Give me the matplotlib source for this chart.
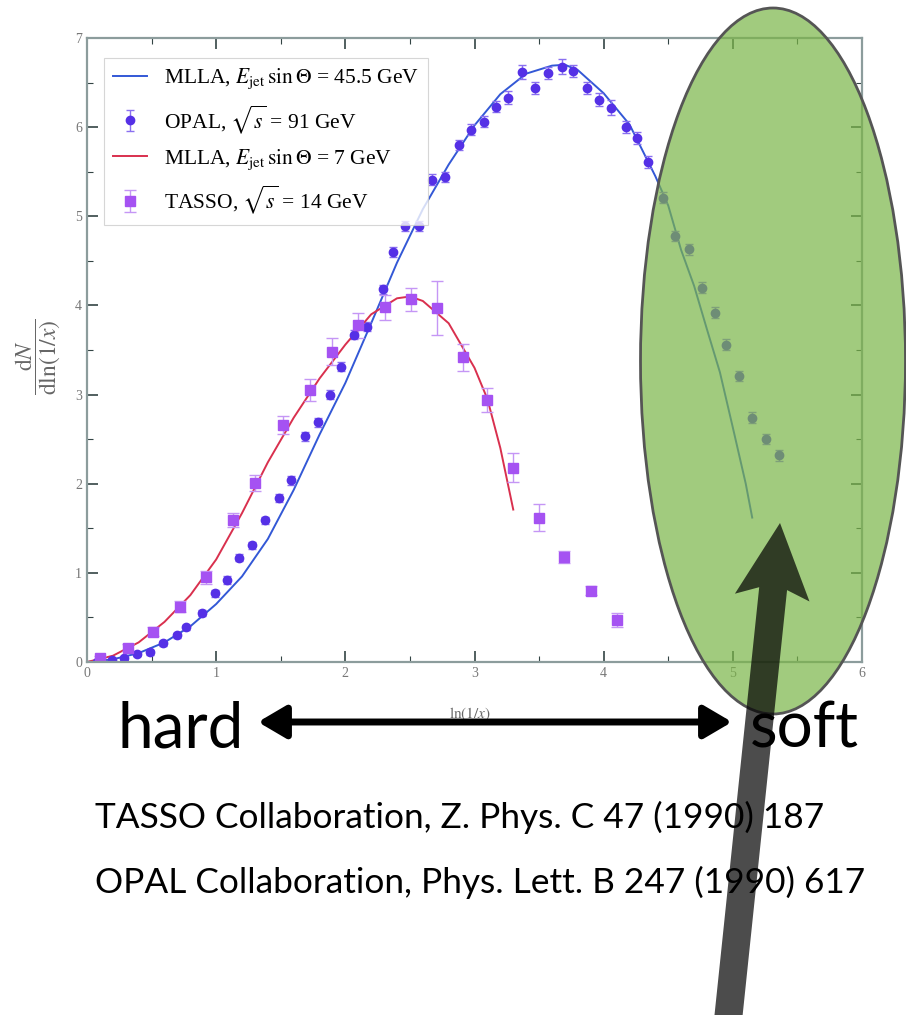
""" Charged hadron spectra vs ln(1/x): OPAL and TASSO data with MLLA curves. """
import matplotlib
matplotlib.use("Agg")
import matplotlib.pyplot as plt
from matplotlib.patches import Ellipse, FancyArrow
from matplotlib.ticker import MultipleLocator

# MLLA curve, E_jet sin(Theta) = 45.5 GeV
mlla45_x = [0.0, 0.2, 0.4, 0.6, 0.8, 1.0, 1.2, 1.4, 1.6, 1.8, 2.0, 2.2, 2.4, 2.6,
            2.8, 3.0, 3.2, 3.4, 3.6, 3.7, 3.8, 4.0, 4.2, 4.4, 4.5, 4.6, 4.7, 4.8,
            4.9, 5.0, 5.1, 5.15]
mlla45_y = [0.0, 0.03, 0.10, 0.22, 0.40, 0.65, 0.96, 1.38, 1.93, 2.55, 3.13, 3.80,
            4.48, 5.08, 5.58, 6.02, 6.37, 6.60, 6.69, 6.70, 6.64, 6.38, 6.03, 5.45,
            5.12, 4.62, 4.22, 3.73, 3.25, 2.63, 2.00, 1.62]

# MLLA curve, E_jet sin(Theta) = 7 GeV
mlla7_x = [0.0, 0.2, 0.4, 0.6, 0.8, 1.0, 1.2, 1.4, 1.6, 1.8, 2.0, 2.2, 2.4, 2.5,
           2.6, 2.8, 3.0, 3.1, 3.2, 3.3]
mlla7_y = [0.0, 0.07, 0.22, 0.45, 0.75, 1.15, 1.67, 2.24, 2.74, 3.18, 3.56, 3.90,
           4.08, 4.10, 4.05, 3.80, 3.30, 2.95, 2.40, 1.71]

# OPAL, sqrt(s) = 91 GeV
opal_x = [0.08, 0.19, 0.29, 0.39, 0.49, 0.59, 0.70, 0.77, 0.89, 0.99, 1.08, 1.18,
          1.28, 1.38, 1.49, 1.58, 1.69, 1.79, 1.88, 1.97, 2.07, 2.17, 2.29, 2.37,
          2.46, 2.57, 2.67, 2.77, 2.88, 2.97, 3.07, 3.17, 3.26, 3.37, 3.47, 3.57,
          3.68, 3.76, 3.87, 3.96, 4.06, 4.17, 4.26, 4.34, 4.46, 4.55, 4.66, 4.76,
          4.86, 4.95, 5.05, 5.15, 5.26, 5.36]
opal_y = [0.0, 0.02, 0.045, 0.09, 0.11, 0.21, 0.30, 0.39, 0.55, 0.77, 0.92, 1.17,
          1.31, 1.59, 1.84, 2.04, 2.53, 2.69, 3.0, 3.31, 3.67, 3.76, 4.18, 4.60,
          4.89, 4.89, 5.41, 5.44, 5.80, 5.97, 6.06, 6.23, 6.33, 6.62, 6.44, 6.61,
          6.68, 6.63, 6.44, 6.31, 6.22, 6.00, 5.88, 5.61, 5.21, 4.78, 4.63, 4.20,
          3.92, 3.56, 3.21, 2.74, 2.50, 2.32]
opal_err = [0.02, 0.02, 0.02, 0.02, 0.03, 0.03, 0.03, 0.03, 0.03, 0.04, 0.04, 0.04,
            0.04, 0.04, 0.04, 0.05, 0.05, 0.05, 0.05, 0.05, 0.05, 0.05, 0.05, 0.06,
            0.06, 0.06, 0.06, 0.06, 0.06, 0.06, 0.06, 0.06, 0.07, 0.08, 0.07, 0.07,
            0.08, 0.07, 0.07, 0.07, 0.08, 0.07, 0.07, 0.07, 0.06, 0.06, 0.06, 0.06,
            0.06, 0.06, 0.06, 0.06, 0.06, 0.06]

# TASSO, sqrt(s) = 14 GeV
tasso_x = [0.10, 0.32, 0.51, 0.72, 0.92, 1.13, 1.30, 1.52, 1.73, 1.90, 2.10, 2.31,
           2.51, 2.71, 2.91, 3.10, 3.30, 3.50, 3.69, 3.90, 4.10]
tasso_y = [0.04, 0.16, 0.34, 0.62, 0.95, 1.59, 2.01, 2.66, 3.05, 3.48, 3.78, 3.98,
           4.07, 3.97, 3.42, 2.94, 2.18, 1.62, 1.18, 0.80, 0.47]
tasso_err = [0.03, 0.04, 0.05, 0.06, 0.07, 0.08, 0.09, 0.10, 0.12, 0.15, 0.14, 0.14,
             0.13, 0.30, 0.15, 0.13, 0.16, 0.15, 0.07, 0.05, 0.08]

refs = ["TASSO Collaboration, Z. Phys. C 47 (1990) 187",
        "OPAL Collaboration, Phys. Lett. B 247 (1990) 617"]

W, H = 906, 1015


def main():
    plt.rcParams['font.family'] = ['Liberation Serif', 'DejaVu Serif']
    plt.rcParams['mathtext.fontset'] = 'stix'

    fig = plt.figure(figsize=(W / 100, H / 100), dpi=100)
    ax = fig.add_axes([87 / W, 1 - 662 / H, 775 / W, 624 / H])

    l45, = ax.plot(mlla45_x, mlla45_y, color='#3358d6', lw=1.4,
                   label=r'MLLA, $E_{\rm jet}\,\sin\Theta$ = 45.5 GeV')
    opal = ax.errorbar(opal_x, opal_y, yerr=opal_err, fmt='o', ms=6,
                       color='#5530e6', ecolor='#8a70f0', elinewidth=1,
                       capsize=3, lw=0, label=r'OPAL, $\sqrt{s}$ = 91 GeV')
    l7, = ax.plot(mlla7_x, mlla7_y, color='#d9304e', lw=1.4,
                  label=r'MLLA, $E_{\rm jet}\,\sin\Theta$ = 7 GeV')
    tasso = ax.errorbar(tasso_x, tasso_y, yerr=tasso_err, fmt='s', ms=7,
                        color='#a552f2', ecolor='#c596f5', elinewidth=1,
                        capsize=4, lw=0, label=r'TASSO, $\sqrt{s}$ = 14 GeV')

    ax.set_xlim(0, 6)
    ax.set_ylim(0, 7)
    ax.xaxis.set_major_locator(MultipleLocator(1))
    ax.xaxis.set_minor_locator(MultipleLocator(0.5))
    ax.yaxis.set_major_locator(MultipleLocator(1))
    ax.yaxis.set_minor_locator(MultipleLocator(0.5))
    ax.tick_params(which='both', direction='in', top=True, right=True,
                   colors='#334444', labelcolor='#777777', labelsize=10)
    ax.tick_params(which='major', length=8, width=1.2)
    ax.tick_params(which='minor', length=4, width=0.8)
    for s in ax.spines.values():
        s.set_color('#8c9c9c')
        s.set_linewidth(1.6)

    ax.set_ylabel(r'$\dfrac{\mathrm{d}N}{\mathrm{d}\ln(1/x)}$', fontsize=17,
                  color='#666666', va='center')
    ax.yaxis.set_label_coords(-0.064, 0.49)
    ax.set_xlabel(r'$\ln(1/x)$', fontsize=11, color='#666666')
    ax.xaxis.set_label_coords(0.494, -0.07)

    handles = [l45, opal, l7, tasso]
    leg = ax.legend(handles, [h.get_label() for h in handles],
                    loc='upper left', bbox_to_anchor=(0.022, 0.968), fontsize=15.5,
                    frameon=True, fancybox=False, edgecolor='#cccccc',
                    borderpad=0.4, labelspacing=0.55, handlelength=1.6,
                    handletextpad=0.8, borderaxespad=0)
    leg.get_frame().set_linewidth(0.8)

    # overlay in pixel units for the slide annotations
    ov = fig.add_axes([0, 0, 1, 1])
    ov.set_xlim(0, W)
    ov.set_ylim(H, 0)
    ov.axis('off')
    ov.patch.set_alpha(0)

    ov.add_patch(Ellipse((773, 361), 265, 706, facecolor=(0.48, 0.71, 0.28, 0.7),
                         edgecolor='#555555', lw=2))

    big = dict(family=['Lato', 'DejaVu Sans'], color='black')
    ov.text(117, 748, 'hard', fontsize=46, va='baseline', **big)
    ov.text(750, 748, 'soft', fontsize=46, va='baseline', **big)
    ov.annotate('', xy=(258, 722), xytext=(732, 722),
                arrowprops=dict(arrowstyle='<|-|>,head_length=0.85,head_width=0.5',
                                lw=5, color='black', mutation_scale=20,
                                shrinkA=0, shrinkB=0))

    ov.text(95, 828, refs[0], fontsize=25.4, va='baseline', **big)
    ov.text(95, 893, refs[1], fontsize=25.4, va='baseline', **big)

    ov.add_patch(FancyArrow(727, 1030, 53, -507, width=28, head_width=75,
                            head_length=75, overhang=0.12,
                            length_includes_head=True,
                            facecolor=(0, 0, 0, 0.7), edgecolor='none'))

    fig.savefig('out.png', dpi=100)


if __name__ == "__main__":
    main()
